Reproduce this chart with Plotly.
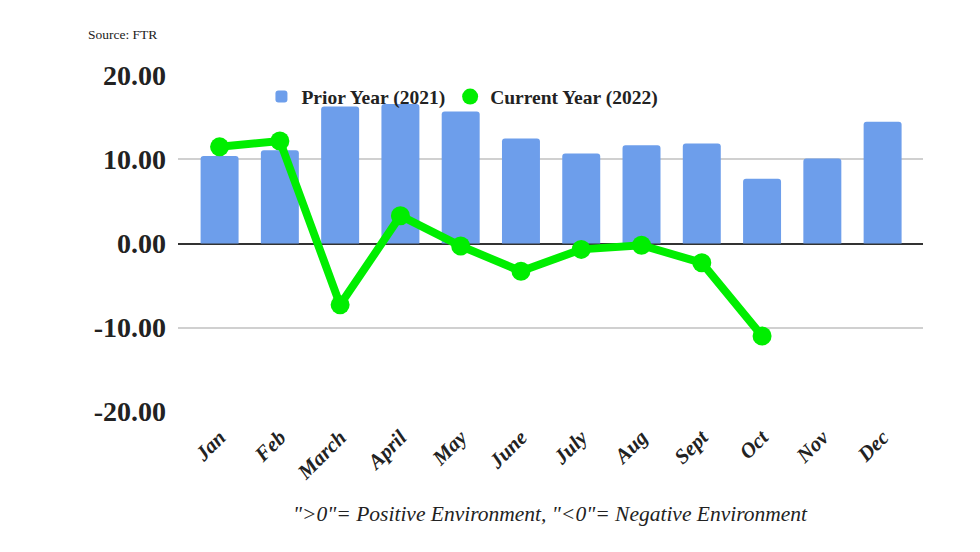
import plotly.graph_objects as go

months = ["Jan", "Feb", "March", "April", "May", "June", "July", "Aug", "Sept", "Oct", "Nov", "Dec"]
prior_2021 = [10.4, 11.1, 16.3, 16.6, 15.7, 12.5, 10.7, 11.7, 11.9, 7.7, 10.1, 14.5]
current_2022 = [11.5, 12.2, -7.3, 3.3, -0.3, -3.3, -0.7, -0.2, -2.3, -11.0, None, None]
y_ticks = [-20, -10, 0, 10, 20]
y_tick_labels = [f"{v:.2f}" for v in y_ticks]

serif = "Liberation Serif"
bar_color = "#6d9eeb"
line_color = "#00ee00"

fig = go.Figure()
fig.add_trace(go.Bar(
    x=months, y=prior_2021, name="Prior Year (2021)",
    marker=dict(color=bar_color, line=dict(width=0), cornerradius=3),
))
fig.add_trace(go.Scatter(
    x=months, y=current_2022, mode="lines+markers", name="Current Year (2022)",
    line=dict(color=line_color, width=8), marker=dict(color=line_color, size=19),
    showlegend=False,
))
fig.add_trace(go.Scatter(
    x=[months[0]], y=[None], mode="markers", name="Current Year (2022)",
    marker=dict(color=line_color, size=17), showlegend=True,
))

fig.update_layout(
    width=964, height=536,
    margin=dict(l=170, r=49, t=67, b=132),
    paper_bgcolor="white", plot_bgcolor="white",
    bargap=0.37,
    showlegend=True,
    legend=dict(
        orientation="h", x=0.112, y=0.935, xanchor="left", yanchor="middle",
        font=dict(family=serif, size=19.5, color="#222", weight="bold"),
        bgcolor="rgba(0,0,0,0)", itemwidth=30, traceorder="normal",
    ),
    xaxis=dict(
        type="category", range=[-0.69, 11.67],
        tickangle=-45, showgrid=False, ticks="", showline=False,
        ticklabelstandoff=8,
        tickfont=dict(family=serif, size=21, color="#222", weight="bold", style="italic"),
    ),
    yaxis=dict(
        range=[-20.05, 20.05], tickvals=y_ticks, ticktext=y_tick_labels,
        showgrid=True, gridcolor="#d0d0d0", gridwidth=1.5,
        zeroline=True, zerolinecolor="#333", zerolinewidth=1.5,
        ticks="", ticklabelstandoff=11,
        tickfont=dict(family=serif, size=28, color="#222", weight="bold"),
    ),
    annotations=[
        dict(text="Source: FTR", xref="paper", yref="paper", x=-0.1235, y=1.119,
             xanchor="left", yanchor="middle", showarrow=False,
             font=dict(family=serif, size=13.5, color="#222")),
        dict(text="\">0\"= Positive Environment, \"<0\"= Negative Environment",
             xref="paper", yref="paper", x=0.5, y=-0.303,
             xanchor="center", yanchor="middle", showarrow=False,
             font=dict(family=serif, size=21.5, color="#222", style="italic")),
    ],
)

fig.write_html("out.html")
